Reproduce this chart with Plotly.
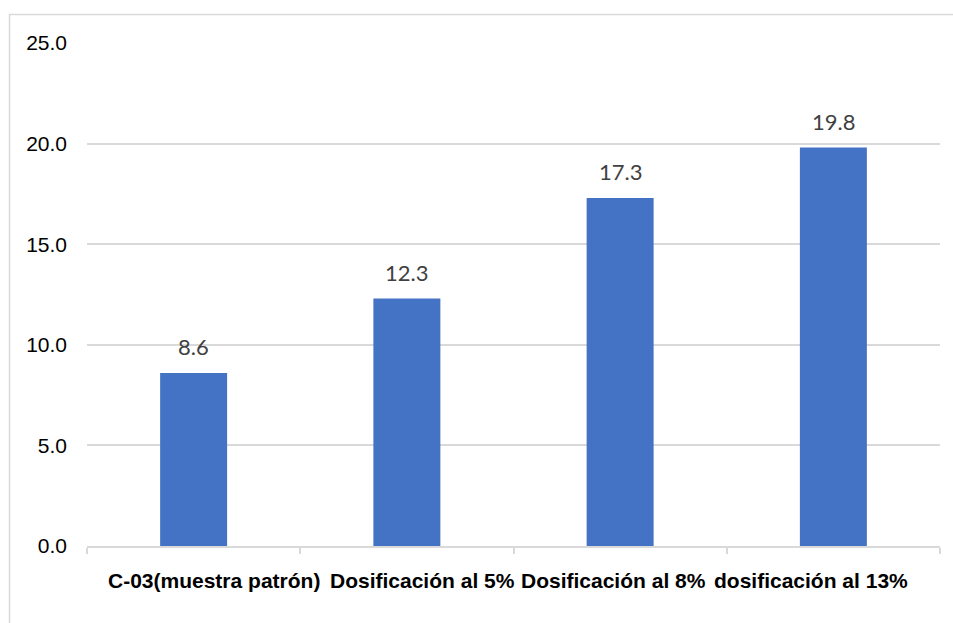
import plotly.graph_objects as go

# Ensayo por dosificación
categories = [
    "C-03(muestra patrón)",
    "Dosificación al 5%",
    "Dosificación al 8%",
    "dosificación al 13%",
]
values = [8.6, 12.3, 17.3, 19.8]
y_ticks = [0, 5, 10, 15, 20, 25]
y_tick_text = [f"{v:.1f}" for v in y_ticks]
# horizontal nudge of each category label (in category units)
label_offsets = [0.096, 0.072, -0.033, -0.105]

W, H = 953, 623
L, R, T, B = 87, 13, 43, 77

positions = list(range(len(categories)))

fig = go.Figure()
fig.add_trace(go.Bar(
    x=positions,
    y=values,
    marker=dict(color="#4472C4", line=dict(width=0)),
    hoverinfo="skip",
))

annotations = []
for p, v in zip(positions, values):
    annotations.append(dict(
        x=p, y=v, xref="x", yref="y",
        text=f"{v:.1f}", showarrow=False,
        yshift=26, yanchor="middle",
        font=dict(family="Lato, Carlito, sans-serif", size=22, color="#404040"),
    ))
for p, name, off in zip(positions, categories, label_offsets):
    annotations.append(dict(
        x=p + off, y=0, xref="x", yref="y",
        text=f"<b>{name}</b>", showarrow=False,
        yshift=-34, yanchor="middle",
        font=dict(family="Liberation Sans, Arial, sans-serif", size=21, color="#000000"),
    ))

# outer chart frame
fx0 = (9.5 - L) / (W - L - R)
fx1 = (W + 5 - L) / (W - L - R)
fy0 = -(H + 5 - (H - B)) / (H - T - B)
fy1 = ((H - B) - 14.5) / (H - T - B)

fig.update_layout(
    width=W, height=H,
    margin=dict(l=L, r=R, t=T, b=B, pad=0),
    paper_bgcolor="white",
    plot_bgcolor="white",
    showlegend=False,
    bargap=0.686,
    annotations=annotations,
    shapes=[dict(
        type="rect", xref="paper", yref="paper",
        x0=fx0, x1=fx1, y0=fy0, y1=fy1,
        line=dict(color="#D9D9D9", width=1.5),
        layer="below",
    )],
    xaxis=dict(
        range=[-0.5, len(categories) - 0.5],
        tickmode="array",
        tickvals=[p - 0.5 for p in positions] + [positions[-1] + 0.5],
        showticklabels=False,
        ticks="outside", ticklen=6, tickwidth=1.5, tickcolor="#D9D9D9",
        showgrid=False, zeroline=False,
        showline=True, linecolor="#D9D9D9", linewidth=1.5,
        fixedrange=True,
    ),
    yaxis=dict(
        range=[0, 25],
        tickmode="array",
        tickvals=y_ticks,
        ticktext=y_tick_text,
        tickfont=dict(family="Liberation Sans, Arial, sans-serif", size=21, color="#000000"),
        ticklabelstandoff=19,
        showgrid=True, gridcolor="#D9D9D9", gridwidth=1.5,
        zeroline=False, showline=False,
        fixedrange=True,
    ),
)

fig.write_html("out.html")
